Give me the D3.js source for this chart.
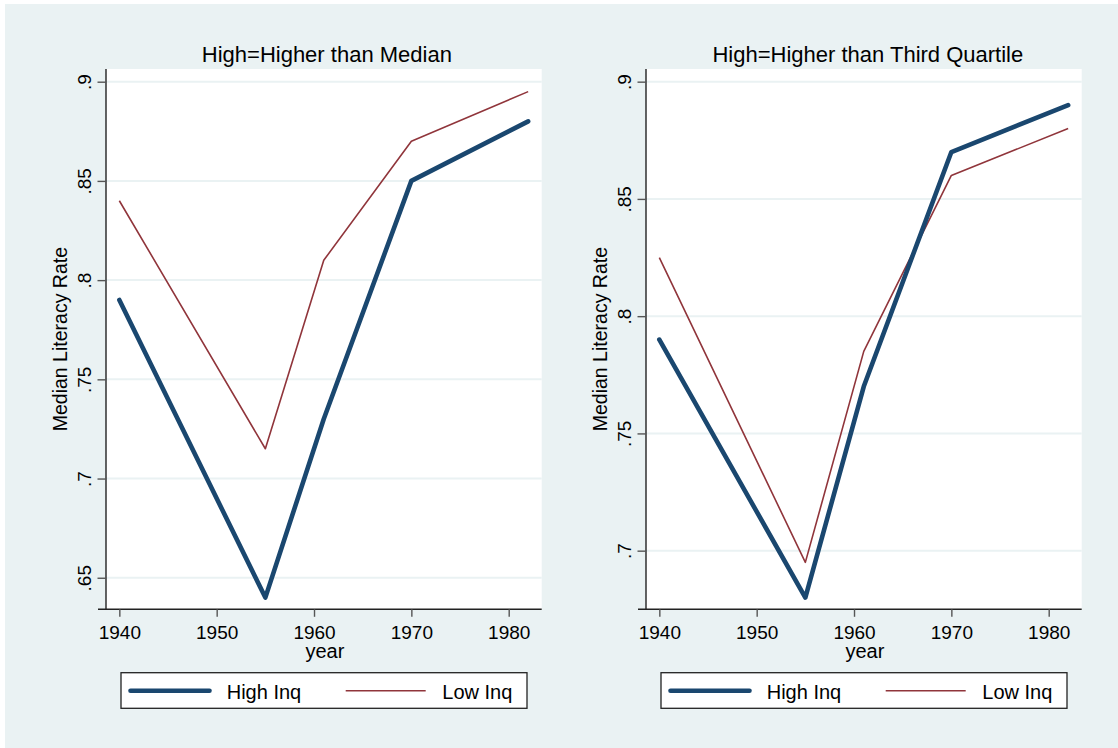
<!DOCTYPE html>
<html>
<head>
<meta charset="utf-8">
<script src="https://cdn.jsdelivr.net/npm/d3@7"></script>
<style>
  html, body { margin: 0; padding: 0; background: #ffffff; }
  svg { display: block; }
  text { font-family: "Liberation Sans", Arial, sans-serif; fill: #000; }
</style>
</head>
<body>
<svg id="chart" width="1118" height="748"></svg>
<script>
// ---- Data ----
const years = [1940, 1955, 1961, 1970, 1982];
const medianHigh = [0.79, 0.64, 0.73, 0.85, 0.88];
const medianLow = [0.84, 0.715, 0.81, 0.87, 0.895];
const quartileHigh = [0.79, 0.68, 0.77, 0.87, 0.89];
const quartileLow = [0.825, 0.695, 0.785, 0.86, 0.88];
const xTicks = [1940, 1950, 1960, 1970, 1980];
const yTicksLeft = [0.65, 0.7, 0.75, 0.8, 0.85, 0.9];
const yTicksRight = [0.7, 0.75, 0.8, 0.85, 0.9];
const panelTitles = ["High=Higher than Median", "High=Higher than Third Quartile"];
const seriesNames = ["High Inq", "Low Inq"];

// ---- Style ----
const BG = "rgb(234,242,243)";
const GRID = "rgb(234,242,243)";
const NAVY = "rgb(26,71,111)";
const MAROON = "rgb(144,53,59)";

const svg = d3.select("#chart");
svg.append("rect").attr("x", 5).attr("y", 4).attr("width", 1113).attr("height", 744).attr("fill", BG);

const panels = [
  { x0: 106, x1: 541.7, yDomain: [0.6341, 0.9064], yTicks: yTicksLeft, high: medianHigh, low: medianLow, title: panelTitles[0], titleDx: 3 },
  { x0: 646, x1: 1081.7, yDomain: [0.6750, 0.9054], yTicks: yTicksRight, high: quartileHigh, low: quartileLow, title: panelTitles[1], titleDx: 4 }
];
const plotTop = 69, plotBottom = 609.3;
const fmt = v => d3.format(".2~f")(v).replace(/^0/, "");

panels.forEach(p => {
  const x = d3.scaleLinear().domain([1938.63, 1983.39]).range([p.x0, p.x1]);
  const y = d3.scaleLinear().domain(p.yDomain).range([plotBottom, plotTop]);
  const g = svg.append("g");

  // plot region
  g.append("rect").attr("x", p.x0).attr("y", plotTop).attr("width", p.x1 - p.x0).attr("height", plotBottom - plotTop).attr("fill", "#fff");

  // gridlines
  g.selectAll("line.grid").data(p.yTicks).enter().append("line")
    .attr("x1", p.x0).attr("x2", p.x1)
    .attr("y1", d => y(d)).attr("y2", d => y(d))
    .attr("stroke", GRID).attr("stroke-width", 2);

  // y axis
  const ya = g.append("g").attr("transform", `translate(${p.x0},0)`)
    .call(d3.axisLeft(y).tickValues(p.yTicks).tickSize(8.5).tickFormat(fmt));
  ya.select(".domain").attr("stroke", "#222").attr("stroke-width", 1.4).attr("d", `M0,${plotTop}V${plotBottom}`);
  ya.selectAll(".tick line").attr("stroke", "#555").attr("stroke-width", 1.4);
  ya.selectAll(".tick text")
    .attr("transform", "rotate(-90)")
    .attr("x", 0).attr("y", -15).attr("dy", 0)
    .attr("text-anchor", "middle")
    .style("font-size", "19px").style("font-family", "Liberation Sans, Arial, sans-serif").attr("fill", "#000");

  // x axis
  const xa = g.append("g").attr("transform", `translate(0,${plotBottom})`)
    .call(d3.axisBottom(x).tickValues(xTicks).tickSize(7.5).tickFormat(d3.format("d")));
  xa.select(".domain").attr("stroke", "#222").attr("stroke-width", 1.4).attr("d", `M${p.x0 - 8},0H${p.x1}`);
  xa.selectAll(".tick line").attr("stroke", "#555").attr("stroke-width", 1.4);
  xa.selectAll(".tick text")
    .attr("y", 30).attr("dy", 0)
    .style("font-size", "19px").style("font-family", "Liberation Sans, Arial, sans-serif").attr("fill", "#000");

  // axis titles
  g.append("text").attr("x", (p.x0 + p.x1) / 2 + 1).attr("y", 658)
    .attr("text-anchor", "middle").style("font-size", "20px").text("year");
  g.append("text")
    .attr("transform", `translate(${p.x0 - 39.3},${(plotTop + plotBottom) / 2}) rotate(-90)`)
    .attr("text-anchor", "middle").style("font-size", "19.5px").text("Median Literacy Rate");

  // title
  g.append("text").attr("x", (p.x0 + p.x1) / 2 + p.titleDx).attr("y", 62.3)
    .attr("text-anchor", "middle").style("font-size", "22px").text(p.title);

  // lines
  const line = d3.line().x(d => x(d[0])).y(d => y(d[1]));
  g.append("path").datum(years.map((yr, i) => [yr, p.low[i]]))
    .attr("d", line).attr("fill", "none").attr("stroke", MAROON).attr("stroke-width", 1.6)
    .attr("stroke-linejoin", "round");
  g.append("path").datum(years.map((yr, i) => [yr, p.high[i]]))
    .attr("d", line).attr("fill", "none").attr("stroke", NAVY).attr("stroke-width", 4.6)
    .attr("stroke-linejoin", "round").attr("stroke-linecap", "round");

  // legend
  const lg = g.append("g").attr("transform", `translate(${p.x0},0)`);
  lg.append("rect").attr("x", 15).attr("y", 672.7).attr("width", 406).attr("height", 35.6)
    .attr("fill", "#fff").attr("stroke", "#222").attr("stroke-width", 1.3);
  lg.append("line").attr("x1", 24.5).attr("x2", 103.5).attr("y1", 690.7).attr("y2", 690.7)
    .attr("stroke", NAVY).attr("stroke-width", 4.6).attr("stroke-linecap", "round");
  lg.append("text").attr("x", 120.7).attr("y", 699.3).style("font-size", "20px").text(seriesNames[0]);
  lg.append("line").attr("x1", 239.7).attr("x2", 319.7).attr("y1", 690.7).attr("y2", 690.7)
    .attr("stroke", MAROON).attr("stroke-width", 1.6);
  lg.append("text").attr("x", 336.3).attr("y", 699.3).style("font-size", "20px").text(seriesNames[1]);
});
</script>
</body>
</html>
